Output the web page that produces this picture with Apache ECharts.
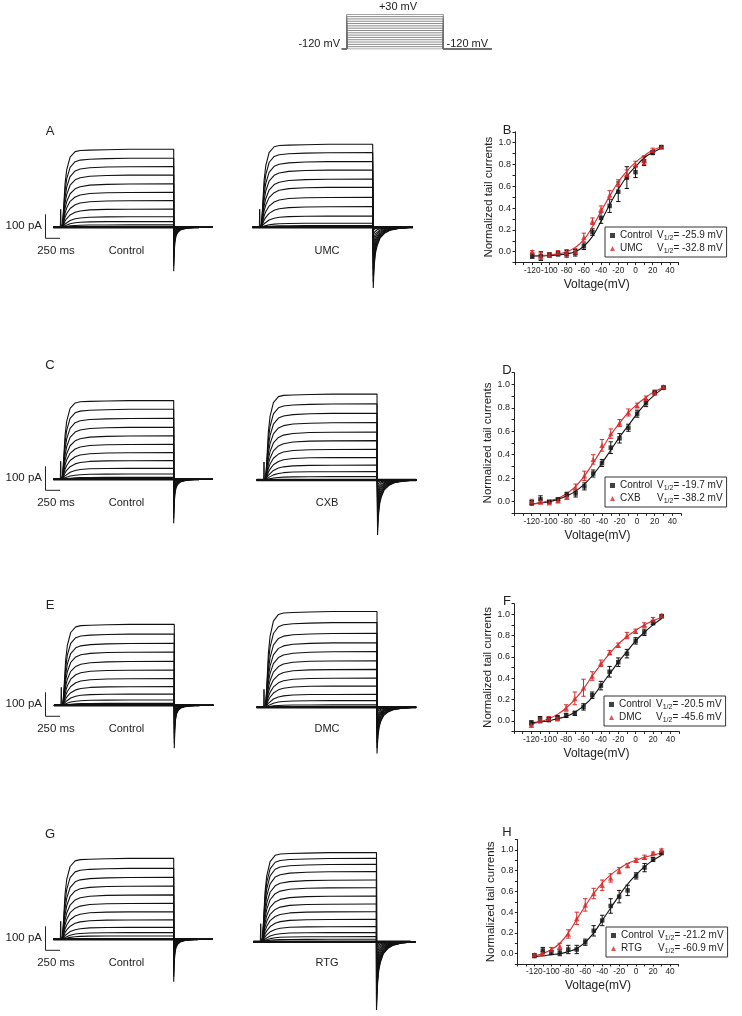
<!DOCTYPE html>
<html><head><meta charset="utf-8">
<script src="https://cdn.jsdelivr.net/npm/echarts@6/dist/echarts.min.js"></script>
<style>html,body{margin:0;padding:0;background:#fff}#c{width:742px;height:1016px}</style>
</head><body><div id="c"></div>
<script>
// ---------------- DATA ----------------
const voltages = [-120,-110,-100,-90,-80,-70,-60,-50,-40,-30,-20,-10,0,10,20,30];
const protocolLevels = [-120,-110,-100,-90,-80,-70,-60,-50,-40,-30,-20,-10,0,10,20,30];

// Panel B (UMC)
const ctrlB = [-0.04,-0.04,-0.03,-0.02,-0.02,-0.01,0.05,0.18,0.31,0.42,0.55,0.68,0.73,0.83,0.91,0.96];
const ctrlBErr = [0.02,0.04,0.02,0.02,0.03,0.03,0.03,0.03,0.05,0.06,0.09,0.10,0.05,0.04,0.02,0.01];
const umcB = [0.00,-0.04,-0.03,-0.01,-0.01,0.00,0.13,0.28,0.39,0.52,0.63,0.71,0.80,0.84,0.93,0.96];
const umcBErr = [0.01,0.03,0.02,0.02,0.03,0.03,0.04,0.03,0.03,0.04,0.03,0.04,0.03,0.04,0.02,0.01];
const ctrlBFit = [-0.04,-0.04,-0.035,-0.03,-0.02,0.00,0.05,0.14,0.28,0.43,0.57,0.69,0.78,0.86,0.91,0.95];
const umcBFit = [-0.04,-0.035,-0.03,-0.02,0.00,0.04,0.11,0.23,0.37,0.51,0.64,0.74,0.82,0.88,0.93,0.96];

// Panel D (CXB)
const ctrlD = [-0.01,0.02,0.00,0.02,0.06,0.07,0.13,0.24,0.33,0.46,0.54,0.63,0.75,0.84,0.93,0.97];
const ctrlDErr = [0.02,0.03,0.01,0.01,0.02,0.03,0.03,0.03,0.03,0.05,0.04,0.03,0.03,0.03,0.02,0.01];
const cxbD = [0.00,0.00,-0.01,0.01,0.04,0.12,0.22,0.36,0.48,0.58,0.67,0.76,0.82,0.88,0.93,0.98];
const cxbDErr = [0.02,0.02,0.01,0.02,0.02,0.03,0.04,0.04,0.05,0.04,0.03,0.03,0.02,0.02,0.01,0.01];
const ctrlDFit = [-0.02,-0.01,0.00,0.02,0.05,0.09,0.15,0.23,0.33,0.44,0.55,0.65,0.75,0.84,0.91,0.97];
const cxbDFit = [-0.02,-0.01,0.01,0.03,0.07,0.13,0.22,0.33,0.45,0.57,0.67,0.76,0.83,0.89,0.94,0.97];

// Panel F (DMC)
const ctrlF = [-0.02,0.01,0.01,0.03,0.05,0.07,0.13,0.24,0.33,0.46,0.55,0.63,0.75,0.83,0.92,0.98];
const ctrlFErr = [0.02,0.03,0.02,0.02,0.02,0.02,0.03,0.03,0.04,0.05,0.04,0.04,0.03,0.03,0.02,0.01];
const dmcF = [-0.04,0.01,0.02,0.02,0.12,0.21,0.31,0.42,0.54,0.64,0.71,0.80,0.84,0.90,0.95,0.99];
const dmcFErr = [0.02,0.02,0.02,0.02,0.03,0.06,0.08,0.04,0.03,0.02,0.02,0.03,0.02,0.02,0.02,0.01];
const ctrlFFit = [-0.02,-0.01,0.00,0.02,0.04,0.08,0.14,0.22,0.33,0.44,0.55,0.65,0.75,0.83,0.90,0.96];
const dmcFFit = [-0.03,-0.01,0.02,0.06,0.12,0.20,0.30,0.42,0.53,0.63,0.72,0.79,0.85,0.90,0.94,0.97];

// Panel H (RTG)
const ctrlH = [-0.02,0.03,0.01,0.01,0.04,0.04,0.11,0.22,0.32,0.46,0.55,0.61,0.75,0.83,0.91,0.97];
const ctrlHErr = [0.02,0.03,0.02,0.03,0.04,0.04,0.03,0.05,0.05,0.07,0.06,0.05,0.03,0.04,0.02,0.01];
const rtgH = [-0.01,0.00,0.04,0.07,0.19,0.34,0.47,0.58,0.66,0.73,0.80,0.85,0.90,0.93,0.97,1.00];
const rtgHErr = [0.01,0.02,0.02,0.03,0.04,0.06,0.06,0.05,0.05,0.04,0.03,0.02,0.02,0.02,0.01,0.01];
const ctrlHFit = [-0.03,-0.02,-0.01,0.00,0.02,0.05,0.11,0.20,0.32,0.44,0.56,0.67,0.76,0.84,0.90,0.95];
const rtgHFit = [-0.02,0.00,0.04,0.10,0.20,0.33,0.46,0.58,0.68,0.76,0.82,0.87,0.90,0.93,0.95,0.97];

// V1/2 values (mV)
const vHalfCtrl = ['-25.9','-19.7','-20.5','-21.2'];
const vHalfDrug = ['-32.8','-38.2','-45.6','-60.9'];
const drugNames = ['UMC','CXB','DMC','RTG'];

// axis tick labels
const xTickLabels = [-120,-100,-80,-60,-40,-20,0,20,40];
const yTickLabels = [0,0.2,0.4,0.6,0.8,1.0];

// Current traces: steady-state levels (pA) per panel, top to bottom
const levA_ctrl = [325,288,253,218,181,146,111,76,44,24,10];
const levA_umc  = [346,311,274,239,201,167,125,86,47,17,7];
const levC_ctrl = [328,292,254,217,181,146,111,78,46,22,8];
const levC_cxb  = [358,317,278,239,200,164,128,94,62,35,14];
const levE_ctrl = [337,297,258,222,183,147,111,78,47,22,8];
const levE_dmc  = [399,353,308,269,232,194,158,122,89,54,28,10];
const levG_ctrl = [337,296,258,222,185,150,115,81,50,28,14];
const levG_rtg  = [371,347,322,292,257,225,190,157,125,93,63,38,21,10];
// tail current peak (pA, negative direction), pulse end and trace end (ms)
const tailPeak = [183,253,183,229,179,192,177,285];
const pulseEnd = [2000,2010,2000,2010,2000,2000,2000,2050];
const traceEnd = [2450,2720,2450,2700,2450,2700,2430,2660];
// activation time course (fraction of steady state)
const riseT    = [0,15,30,60,90,150,240,330,500,800,1200,2000];
const riseFast = [0,0.05,0.2,0.56,0.74,0.9,0.97,0.985,0.99,0.995,1,1];
const riseSlow = [0,0.04,0.1,0.25,0.37,0.58,0.76,0.86,0.94,0.98,0.99,1];
// tail deactivation time course (fraction of peak)
const tailT    = [0,8,20,40,70,120,200,300,450,700];
const tailCtrl = [1,0.6,0.35,0.2,0.12,0.06,0.03,0.01,0,0];
const tailDrug = [1,0.8,0.6,0.42,0.3,0.18,0.1,0.05,0.02,0];

// ---------------- LAYOUT ----------------
const RED = '#d82a2c', BLK = '#111';
const FONT = 'Liberation Sans, Arial, Helvetica, sans-serif';
const traceLevels = [levA_ctrl, levA_umc, levC_ctrl, levC_cxb, levE_ctrl, levE_dmc, levG_ctrl, levG_rtg];
const traceIsDrug = [false,true,false,true,false,true,false,true];
const traceOrigin = [[61.7,227.3],[260.7,227.3],[61.7,479.3],[265,480],[62.3,705.3],[265,707.3],[61.7,939.3],[261.7,941.7]];
const PXMS = 0.056, PXPA = 0.24, TMIN = -200, TMAX = 3000, IMIN = -300, IMAX = 420;
const ivGrids = [
  {left:515, top:131.8, width:163.5, height:130.8},
  {left:514.1, top:372.6, width:167, height:140.8},
  {left:514, top:603.6, width:165.1, height:127.8},
  {left:517.4, top:839.6, width:161.1, height:124.4}
];
const legendBoxes = [[605,227],[605,477],[604,696],[606,927]];

const grids = [], xAxes = [], yAxes = [], series = [], legends = [];
// protocol grid
grids.push({left:341.9, top:14.3, width:149.7, height:34.7});
xAxes.push({type:'value', gridIndex:0, min:-50, max:1500, show:false});
yAxes.push({type:'value', gridIndex:0, min:-120, max:30, show:false});
protocolLevels.forEach(v => {
  series.push({type:'line', xAxisIndex:0, yAxisIndex:0, showSymbol:false, silent:true, animation:false,
    lineStyle:{color:'#6e6e6e', width:0.8},
    data:[[-50,-120],[0,-120],[0,v],[1000,v],[1000,-120],[1500,-120]]});
});

// trace grids
traceOrigin.forEach((o, p) => {
  const gi = grids.length;
  grids.push({left:o[0] + TMIN*PXMS, top:o[1] - IMAX*PXPA, width:(TMAX-TMIN)*PXMS, height:(IMAX-IMIN)*PXPA});
  xAxes.push({type:'value', gridIndex:gi, min:TMIN, max:TMAX, show:false});
  yAxes.push({type:'value', gridIndex:gi, min:IMIN, max:IMAX, show:false});
  const lev = traceLevels[p], n = lev.length, pe = pulseEnd[p];
  const tshape = traceIsDrug[p] ? tailDrug : tailCtrl;
  lev.forEach((L, i) => {
    const w = n > 1 ? i/(n-1) : 0;
    const d = [[-150,0]];
    riseT.forEach((t, k) => {
      const f = riseFast[k]*(1-w) + riseSlow[k]*w;
      d.push([Math.min(t, pe), L*f]);
    });
    d.push([pe, L]);
    const tp = tailPeak[p]*L/lev[0];
    tailT.forEach((t, k) => d.push([pe + t, -tp*tshape[k]]));
    d.push([traceEnd[p], 0]);
    series.push({type:'line', xAxisIndex:gi, yAxisIndex:gi, showSymbol:false, silent:true, animation:false,
      lineStyle:{color:BLK, width:1.1}, data:d});
  });
  series.push({type:'line', xAxisIndex:gi, yAxisIndex:gi, showSymbol:false, silent:true, animation:false,
    lineStyle:{color:BLK, width:2.5}, data:[[-150,0],[traceEnd[p],0]]});
  series.push({type:'line', xAxisIndex:gi, yAxisIndex:gi, showSymbol:false, silent:true, animation:false,
    lineStyle:{color:BLK, width:1}, data:[[-25,0],[-18,75],[-10,0]]});
});

// IV grids
const ivSets = [
  [ctrlB, ctrlBErr, umcB, umcBErr, ctrlBFit, umcBFit],
  [ctrlD, ctrlDErr, cxbD, cxbDErr, ctrlDFit, cxbDFit],
  [ctrlF, ctrlFErr, dmcF, dmcFErr, ctrlFFit, dmcFFit],
  [ctrlH, ctrlHErr, rtgH, rtgHErr, ctrlHFit, rtgHFit]
];
function errSeries(ai, ys, es, color) {
  return {type:'custom', xAxisIndex:ai, yAxisIndex:ai, silent:true, animation:false, z:3,
    data: voltages.map((x, i) => [x, ys[i]-es[i], ys[i]+es[i]]),
    renderItem: (params, api) => {
      const lo = api.coord([api.value(0), api.value(1)]);
      const hi = api.coord([api.value(0), api.value(2)]);
      const w = 2.2;
      const st = {stroke:color, lineWidth:1};
      return {type:'group', children:[
        {type:'line', shape:{x1:lo[0], y1:lo[1], x2:hi[0], y2:hi[1]}, style:st},
        {type:'line', shape:{x1:lo[0]-w, y1:lo[1], x2:lo[0]+w, y2:lo[1]}, style:st},
        {type:'line', shape:{x1:hi[0]-w, y1:hi[1], x2:hi[0]+w, y2:hi[1]}, style:st}
      ]};
    }};
}
const axLine = {show:true, onZero:false, lineStyle:{color:'#222', width:1}};
ivGrids.forEach((g, q) => {
  const gi = grids.length;
  grids.push(g);
  const tickX = []; for (let v = -140; v <= 50; v += 10) tickX.push(v);
  const tickY = []; for (let v = -1; v <= 11; v++) tickY.push(v/10);
  xAxes.push({type:'value', gridIndex:gi, min:-140, max:50, position:'bottom', splitLine:{show:false},
    axisLine:axLine, axisTick:{show:true, length:2.5, lineStyle:{color:'#222'}, customValues:tickX},
    axisLabel:{color:'#222', fontSize:8.3, fontFamily:FONT, margin:4, hideOverlap:false,
      showMinLabel:true, showMaxLabel:true, customValues:xTickLabels, formatter: v => String(v)},
    name:'Voltage(mV)', nameLocation:'middle', nameGap:16,
    nameTextStyle:{color:'#222', fontSize:12, fontFamily:FONT}});
  yAxes.push({type:'value', gridIndex:gi, min:-0.1, max:1.1, position:'left', splitLine:{show:false},
    axisLine:axLine, axisTick:{show:true, length:2.5, lineStyle:{color:'#222'}, customValues:tickY},
    axisLabel:{color:'#222', fontSize:9, fontFamily:FONT, margin:4, hideOverlap:false,
      customValues:yTickLabels, formatter: v => Number(v).toFixed(1)},
    name:'Normalized tail currents', nameLocation:'middle', nameGap:17, nameRotate:90,
    nameTextStyle:{color:'#222', fontSize:11.5, fontFamily:FONT}});
  const [c, ce, d, de, cf, df] = ivSets[q];
  series.push({type:'line', name:'fitC'+q, xAxisIndex:gi, yAxisIndex:gi, smooth:true, showSymbol:false, silent:true,
    animation:false, lineStyle:{color:BLK, width:1.1}, data:voltages.map((v,i)=>[v, cf[i]])});
  series.push({type:'line', name:'fitD'+q, xAxisIndex:gi, yAxisIndex:gi, smooth:true, showSymbol:false, silent:true,
    animation:false, lineStyle:{color:RED, width:1.1}, data:voltages.map((v,i)=>[v, df[i]])});
  series.push(errSeries(gi, c, ce, BLK));
  series.push(errSeries(gi, d, de, RED));
  series.push({type:'scatter', name:'Control', xAxisIndex:gi, yAxisIndex:gi, symbol:'rect', symbolSize:4.5,
    itemStyle:{color:BLK}, z:4, animation:false, data:voltages.map((v,i)=>[v, c[i]])});
  series.push({type:'scatter', name:drugNames[q], xAxisIndex:gi, yAxisIndex:gi, symbol:'triangle', symbolSize:5.5,
    itemStyle:{color:RED}, z:4, animation:false, data:voltages.map((v,i)=>[v, d[i]])});
  const vh = {Control:vHalfCtrl[q]}; vh[drugNames[q]] = vHalfDrug[q];
  legends.push({left:legendBoxes[q][0], top:legendBoxes[q][1], orient:'vertical', selectedMode:false,
    padding:[3,4,2,5], itemGap:1, itemWidth:5, itemHeight:5, borderColor:'#333', borderWidth:1,
    backgroundColor:'#fff', z:6,
    data:[{name:'Control', icon:'rect'}, {name:drugNames[q], icon:'triangle'}],
    formatter: name => `{n|${name}}{v|V}{s|1/2}{v|= ${vh[name]} mV}`,
    textStyle:{fontFamily:FONT, fontSize:10, color:'#222',
      rich:{n:{width:37, fontSize:10, fontFamily:FONT, lineHeight:13},
            v:{fontSize:10, fontFamily:FONT, lineHeight:13},
            s:{fontSize:7, fontFamily:FONT, lineHeight:13, verticalAlign:'bottom', padding:[5,0,0,0]}}}});
});

// ---------------- TEXT / SCALE BARS ----------------
const gfx = [];
function txt(x, y, s, size, align) {
  gfx.push({type:'text', x, y, silent:true,
    style:{text:s, fontSize:size, fontFamily:FONT, fill:'#222', align:align||'center', verticalAlign:'middle'}});
}
txt(398, 7, '+30 mV', 11);
txt(340, 44, '-120 mV', 11, 'right');
txt(446.5, 43.5, '-120 mV', 11, 'left');
[['A',131],['C',365],['E',605],['G',834]].forEach(a => txt(50, a[1], a[0], 13));
[['B',130],['D',370],['F',601],['H',832]].forEach(a => txt(507, a[1], a[0], 13));
const baseY = [227.3, 479.3, 705.3, 939.3];
baseY.forEach((yb, r) => {
  txt(126.5, yb + 23.5, 'Control', 11);
  txt(327, yb + 23.5, drugNames[r], 11);
  txt(56, yb + 23.5, '250 ms', 11.5);
  txt(42, yb - 1, '100 pA', 11.5, 'right');
  gfx.push({type:'polyline', silent:true, shape:{points:[[45.5, yb-13],[45.5, yb+11],[60, yb+11]]},
    style:{stroke:'#222', lineWidth:1, fill:null}});
});

const chart = echarts.init(document.getElementById('c'), null, {renderer:'canvas'});
chart.setOption({
  animation:false, backgroundColor:'#fff',
  grid:grids, xAxis:xAxes, yAxis:yAxes, series:series, legend:legends, graphic:gfx
});
</script></body></html>
